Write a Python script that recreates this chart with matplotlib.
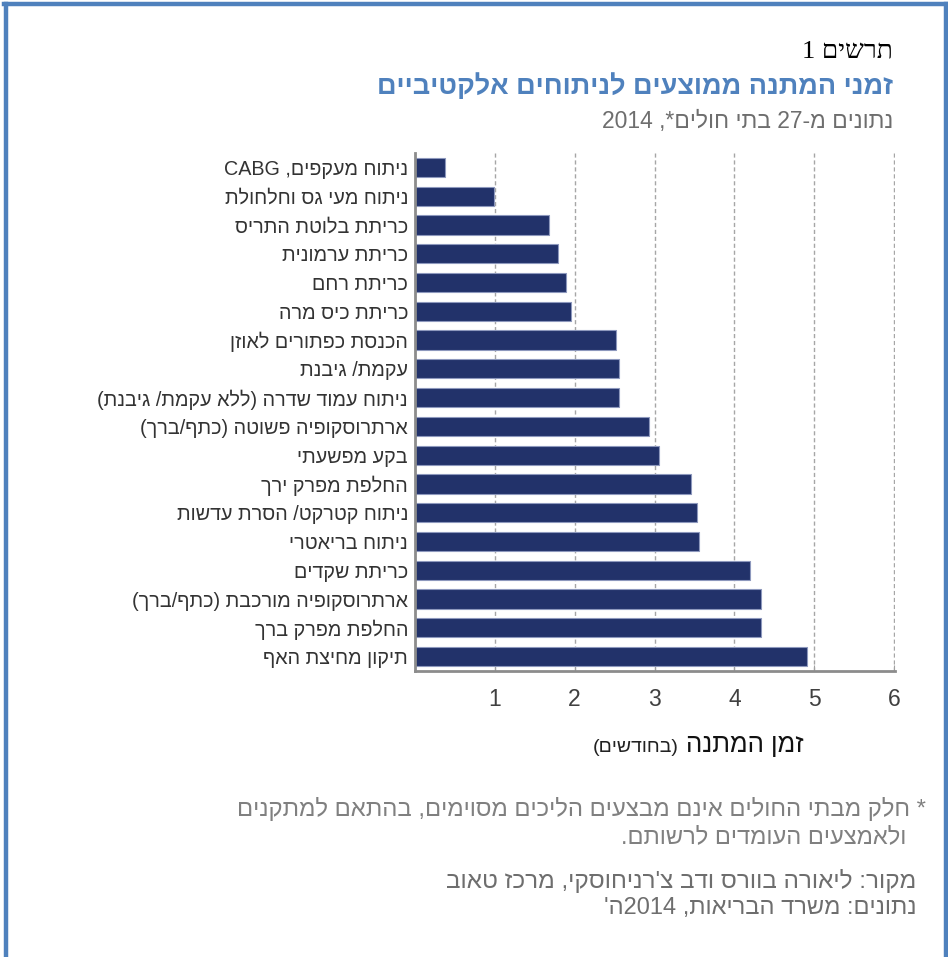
import re
import matplotlib
matplotlib.use("Agg")
import matplotlib.pyplot as plt
from matplotlib.lines import Line2D

plt.rcParams['font.family'] = ['Liberation Sans', 'DejaVu Sans']

# waiting time (months), top to bottom as in the chart
procedures = [
    "ניתוח מעקפים, CABG",
    "ניתוח מעי גס וחלחולת",
    "כריתת בלוטת התריס",
    "כריתת ערמונית",
    "כריתת רחם",
    "כריתת כיס מרה",
    "הכנסת כפתורים לאוזן",
    "עקמת/ גיבנת",
    "ניתוח עמוד שדרה (ללא עקמת/ גיבנת)",
    "ארתרוסקופיה פשוטה (כתף/ברך)",
    "בקע מפשעתי",
    "החלפת מפרק ירך",
    "ניתוח קטרקט/ הסרת עדשות",
    "ניתוח בריאטרי",
    "כריתת שקדים",
    "ארתרוסקופיה מורכבת (כתף/ברך)",
    "החלפת מפרק ברך",
    "תיקון מחיצת האף",
]
months = [0.38, 0.99, 1.68, 1.79, 1.89, 1.96, 2.52, 2.55, 2.55, 2.93,
          3.05, 3.46, 3.53, 3.56, 4.20, 4.33, 4.33, 4.91]
xticks = [1, 2, 3, 4, 5, 6]


def vis(s):
    # crude RTL -> visual order: keep latin/digit runs, reverse the rest
    units = re.findall(r"[A-Za-z0-9]+|.", s)
    return "".join({"(": ")", ")": "("}.get(u, u) for u in reversed(units))


W, H = 948, 957
fig = plt.figure(figsize=(W / 100, H / 100), dpi=100)


def fx(px):
    return px / W


def fy(py):
    return 1 - py / H


ax = fig.add_axes([fx(415), fy(671), fx(895) - fx(415), fy(153) - fy(671)])
y = list(range(len(procedures)))
ax.barh(y, months, height=0.67, color="#22326a", edgecolor="#8d98bd", linewidth=0.8)
ax.set_ylim(len(procedures) - 0.5, -0.5)
ax.set_xlim(0, 6.012)
ax.set_yticks(y)
ax.set_yticklabels([vis(p) for p in procedures], fontsize=14.2, color="#333333")
ax.set_xticks(xticks)
ax.set_xticklabels([str(t) for t in xticks], fontsize=16.5, color="#404040")
ax.tick_params(axis="y", length=0, pad=5)
ax.tick_params(axis="x", direction="in", length=4, color="#a0a0a0", pad=12)
ax.grid(axis="x", linestyle=(0, (3, 2)), color="#a6a6a6", linewidth=1)
ax.set_axisbelow(True)
for s in ("top", "right"):
    ax.spines[s].set_visible(False)
for s in ("left", "bottom"):
    ax.spines[s].set_color("#8c8c8c")
    ax.spines[s].set_linewidth(2)

# x axis title in two sizes
fig.text(fx(679), fy(752), vis("(בחודשים)"), fontsize=14, color="#222222",
         ha="right", va="baseline")
fig.text(fx(686), fy(752), vis("זמן המתנה"), fontsize=18.5, color="#111111",
         ha="left", va="baseline")

# titles
fig.text(fx(893), fy(57), vis("תרשים 1"), fontsize=19, color="black", ha="right",
         va="baseline", family=["Liberation Serif", "DejaVu Sans"])
fig.text(fx(893), fy(94), vis("זמני המתנה ממוצעים לניתוחים אלקטיביים"), fontsize=19.5,
         fontweight="bold", color="#4f81bd", ha="right", va="baseline")
fig.text(fx(893), fy(128), vis("נתונים מ-27 בתי חולים*, 2014"), fontsize=16.5,
         color="#6e6e6e", ha="right", va="baseline")

# notes
note_c = "#808080"
fig.text(fx(926), fy(816), vis("* חלק מבתי החולים אינם מבצעים הליכים מסוימים, בהתאם למתקנים"),
         fontsize=17.2, color=note_c, ha="right", va="baseline")
fig.text(fx(906), fy(843), vis("ולאמצעים העומדים לרשותם."),
         fontsize=17, color=note_c, ha="right", va="baseline")
fig.text(fx(916), fy(888), vis("מקור: ליאורה בוורס ודב צ'רניחוסקי, מרכז טאוב"),
         fontsize=17.5, color="#6e6e6e", ha="right", va="baseline")
fig.text(fx(916), fy(914), vis("נתונים: משרד הבריאות, 2014ה'"),
         fontsize=17, color="#6e6e6e", ha="right", va="baseline")

# blue frame
blue = "#4f81bd"
for xs, ys in [([fx(6), fx(6)], [0, fy(4)]),
               ([fx(946), fx(946)], [0, fy(4)]),
               ([fx(4), fx(948)], [fy(4), fy(4)])]:
    fig.add_artist(Line2D(xs, ys, color=blue, linewidth=3.2, transform=fig.transFigure))

fig.savefig("out.png", dpi=100)
